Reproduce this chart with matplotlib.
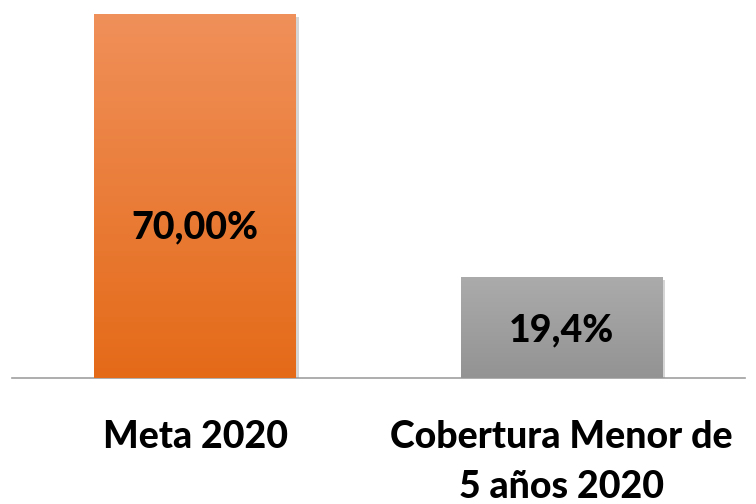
import numpy as np
import matplotlib
matplotlib.use("Agg")
import matplotlib.pyplot as plt
import matplotlib.patheffects as pe
from matplotlib.colors import LinearSegmentedColormap

CATEGORIES = ["Meta 2020", "Cobertura Menor de\n5 años 2020"]
VALUES = [70.0, 19.4]
VALUE_LABELS = ["70,00%", "19,4%"]

TOP_COLORS = ["#F0905A", "#ABABAB"]
BOTTOM_COLORS = ["#E46A18", "#939393"]
LABEL_FRAC = [0.415, 0.47]

plt.rcParams["font.family"] = ["Lato", "DejaVu Sans"]

fig = plt.figure(figsize=(7.56, 5.04), dpi=100)
ax = fig.add_axes([12 / 756, 1 - 378 / 504, 733 / 756, 378 / 504])

x = np.arange(len(VALUES))
bars = ax.bar(x, VALUES, width=0.55, color=TOP_COLORS, zorder=2,
              path_effects=[pe.SimplePatchShadow(offset=(2, -2), shadow_rgbFace="#888888", alpha=0.35),
                            pe.Normal()])

grad = np.linspace(0, 1, 256).reshape(-1, 1)
for bar, top, bot in zip(bars, TOP_COLORS, BOTTOM_COLORS):
    cmap = LinearSegmentedColormap.from_list("g", [bot, top])
    x0, y0 = bar.get_x(), bar.get_y()
    w, h = bar.get_width(), bar.get_height()
    im = ax.imshow(grad, cmap=cmap, origin="lower", aspect="auto",
                   extent=(x0, x0 + w, y0, y0 + h), zorder=3)
    im.set_clip_path(bar)

for xi, v, lab, f in zip(x, VALUES, VALUE_LABELS, LABEL_FRAC):
    ax.text(xi, v * f, lab, ha="center", va="center", fontsize=27,
            fontweight="black", color="black", zorder=4)

ax.set_xlim(-0.5, 1.5)
ax.set_ylim(0, 70 * 378 / 364)
ax.set_xticks(x)
ax.set_xticklabels(CATEGORIES, fontsize=27, fontweight="black", linespacing=1.6)
ax.tick_params(axis="x", length=0, pad=30)
ax.set_yticks([])
for s in ["top", "left", "right"]:
    ax.spines[s].set_visible(False)
ax.spines["bottom"].set_color("#A0A0A0")
ax.spines["bottom"].set_linewidth(1.2)
ax.spines["bottom"].set_zorder(1)

fig.savefig("out.png", dpi=100)
